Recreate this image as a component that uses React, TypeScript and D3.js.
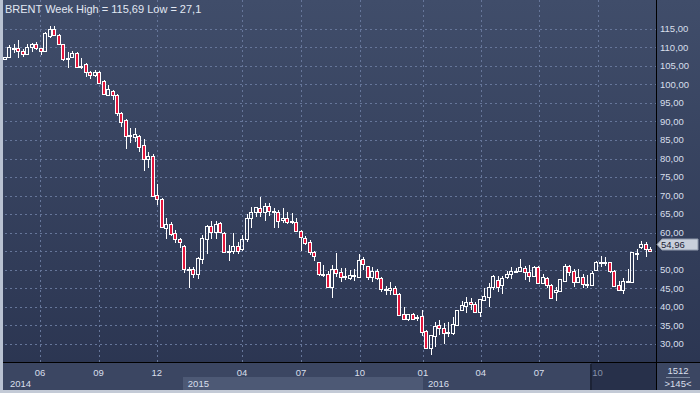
import * as d3 from 'd3';

// weekly BRENT candles, Apr 2014 .. Dec 2016
const opens = [
  106.8, 107.5, 109.5, 109.8, 109.1, 108.1, 110.0, 110.8, 109.7, 109.0,
  113.1, 115.0, 113.4, 110.8, 106.8, 107.3, 108.4, 104.8, 105.5, 103.4,
  102.5, 103.2, 101.0, 97.1, 98.2, 97.1, 92.4, 90.4, 86.2, 85.9,
  86.0, 83.6, 79.8, 80.7, 70.2, 69.1, 61.4, 62.3, 60.0, 58.2,
  56.4, 50.1, 50.2, 48.8, 52.8, 58.2, 61.8, 60.1, 62.5, 59.8,
  54.7, 55.2, 56.4, 55.5, 58.2, 63.9, 65.5, 66.6, 65.5, 67.2,
  65.9, 65.5, 63.4, 63.9, 63.2, 63.0, 60.5, 58.5, 57.4, 54.7,
  52.0, 48.8, 48.8, 45.5, 50.1, 49.3, 48.1, 47.7, 48.6, 48.1,
  52.9, 51.0, 48.1, 49.7, 47.7, 44.7, 44.6, 45.0, 43.4, 38.0,
  36.7, 38.0, 36.9, 37.5, 33.5, 28.8, 32.2, 35.1, 34.4, 32.9,
  32.9, 35.1, 39.2, 40.3, 41.4, 40.8, 38.7, 41.9, 42.8, 45.3,
  47.3, 45.9, 48.0, 48.8, 49.7, 49.7, 50.4, 49.3, 48.4, 50.7,
  46.5, 47.9, 45.9, 43.9, 44.3, 47.1, 51.0, 49.7, 46.8, 48.0,
  46.1, 45.9, 49.9, 52.0, 51.9, 52.0, 49.7, 45.9, 44.6, 46.9,
  46.8, 54.4, 56.2, 56.9, 55.6,
];
const highs = [
  107.4, 110.6, 110.9, 112.0, 109.4, 110.9, 111.2, 111.3, 109.9, 114.0,
  115.69, 115.6, 113.6, 111.0, 108.8, 109.0, 108.6, 107.0, 105.8, 103.6,
  103.9, 103.5, 101.3, 99.8, 98.6, 97.3, 92.6, 90.6, 88.2, 88.2,
  86.3, 85.2, 81.7, 81.1, 73.1, 69.3, 63.9, 62.8, 60.7, 58.7,
  56.6, 50.8, 50.8, 53.4, 59.4, 62.1, 63.2, 63.2, 62.9, 60.1,
  56.7, 60.0, 57.6, 59.4, 65.0, 67.0, 67.0, 69.6, 67.9, 67.9,
  66.6, 66.1, 66.6, 65.5, 65.2, 64.1, 60.7, 59.1, 58.0, 55.2,
  52.2, 51.3, 49.7, 51.3, 54.6, 50.4, 50.4, 50.0, 50.1, 54.3,
  53.5, 51.0, 50.8, 50.1, 48.1, 45.7, 46.6, 45.6, 43.8, 40.1,
  38.1, 38.3, 37.8, 39.2, 33.8, 32.5, 36.0, 36.5, 35.6, 35.9,
  37.4, 39.3, 41.6, 42.6, 42.3, 41.4, 42.2, 45.0, 46.5, 48.6,
  48.3, 48.4, 49.8, 50.7, 50.4, 52.9, 51.0, 51.3, 51.0, 51.0,
  48.8, 48.1, 46.1, 45.4, 47.5, 51.5, 51.3, 50.1, 50.1, 48.9,
  48.6, 49.8, 52.5, 53.8, 53.4, 52.2, 50.0, 47.1, 47.7, 50.1,
  54.9, 55.6, 57.8, 57.4, 56.2,
];
const lows = [
  106.7, 107.3, 108.5, 107.0, 107.3, 107.9, 108.8, 109.3, 107.9, 108.8,
  112.4, 113.0, 110.5, 106.4, 104.5, 107.0, 104.5, 104.1, 102.1, 101.4,
  101.9, 100.0, 97.0, 96.8, 95.8, 91.6, 88.4, 82.6, 84.1, 84.5,
  81.8, 76.7, 77.4, 69.8, 67.5, 61.3, 58.2, 59.0, 57.2, 56.0,
  49.1, 45.2, 47.9, 47.5, 51.5, 54.2, 58.2, 58.2, 59.8, 54.5,
  52.4, 54.2, 54.2, 55.2, 57.6, 61.4, 64.2, 64.3, 63.2, 64.6,
  61.4, 61.2, 62.5, 62.3, 62.3, 60.1, 55.1, 56.7, 54.0, 52.5,
  48.4, 48.1, 45.3, 42.3, 48.1, 46.8, 47.3, 47.3, 47.1, 47.9,
  50.0, 47.3, 46.6, 47.3, 44.1, 43.2, 43.2, 43.2, 37.6, 36.5,
  36.2, 36.5, 36.2, 32.2, 28.8, 27.1, 29.3, 32.4, 29.9, 32.0,
  32.4, 35.0, 39.0, 38.3, 39.2, 38.5, 37.4, 41.6, 40.1, 44.6,
  44.1, 43.4, 47.5, 47.4, 49.1, 49.5, 47.3, 46.8, 48.1, 46.4,
  46.2, 45.0, 42.1, 41.7, 44.1, 46.8, 48.4, 45.5, 46.4, 45.2,
  45.0, 45.8, 49.8, 50.8, 51.0, 49.2, 45.3, 44.4, 43.5, 46.6,
  46.6, 52.6, 55.6, 53.4, 54.7,
];
const closes = [
  107.3, 110.0, 109.8, 109.1, 108.1, 110.0, 110.8, 109.7, 109.0, 113.8,
  114.8, 113.3, 110.8, 106.8, 107.2, 108.4, 104.8, 105.0, 103.4, 102.5,
  103.2, 100.4, 97.3, 98.7, 97.1, 92.4, 89.9, 86.2, 86.4, 86.5,
  83.2, 79.8, 80.7, 70.0, 69.0, 61.6, 62.3, 59.6, 58.2, 57.6,
  50.1, 50.0, 48.8, 53.1, 58.7, 61.8, 60.1, 62.3, 60.1, 54.7,
  55.0, 56.4, 55.2, 58.2, 63.9, 65.5, 66.9, 65.5, 67.2, 65.9,
  65.6, 63.2, 63.9, 62.8, 62.9, 60.5, 58.8, 57.2, 54.7, 53.7,
  48.8, 48.5, 45.5, 50.1, 49.2, 48.1, 48.2, 48.6, 48.3, 52.6,
  51.5, 48.1, 49.7, 47.9, 44.7, 44.6, 45.2, 43.4, 37.8, 36.7,
  38.0, 36.7, 37.3, 33.3, 29.0, 32.4, 34.9, 34.2, 32.9, 33.3,
  35.4, 39.2, 40.5, 41.4, 40.7, 38.7, 42.1, 42.9, 45.4, 48.3,
  45.5, 47.9, 48.8, 49.7, 49.6, 50.7, 49.3, 48.4, 50.8, 46.5,
  48.1, 45.9, 42.5, 44.6, 47.5, 51.0, 49.5, 46.8, 48.0, 46.1,
  46.2, 49.1, 52.0, 51.9, 52.0, 49.8, 45.7, 44.6, 47.1, 47.1,
  54.7, 54.6, 57.0, 55.6, 54.96,
];

const priceTicks = [30, 35, 40, 45, 50, 55, 60, 65, 70, 75, 80, 85, 90, 95, 100, 105, 110, 115];
const monthLabels = ['06', '09', '12', '04', '07', '10', '01', '04', '07', '10'];
const monthBars = [7.8, 20.9, 33.9, 52.9, 66.1, 79.2, 93.3, 106.2, 119.2, 132.3];
const yearLabels = ['2014', '2015', '2016'];
const yearBars = [0, 39.7, 93.3];
const title = 'BRENT Week High = 115,69 Low = 27,1';
const barCount = '1512';
const visibleBars = '>145<';

const W = 700;
const H = 393;
const plotRight = 656;
const axisTop = 362;
const axisBottom = 389.5;
const scrollStart = 130.8; // bar index where the dark scroll zone begins

const font = '"Liberation Sans", Arial, sans-serif';
const red = '#e3163c';
const gridColor = '#66769a';
const textColor = '#d8dfeb';

export default function App() {
  const x = d3.scaleLinear().domain([0, 144]).range([5, 650]);
  const y = d3.scaleLinear().domain([30, 115]).range([344, 28.7]);

  const fmt = (v: number) => v.toFixed(2).replace('.', ',');
  const last = closes[closes.length - 1];
  const labelY = Math.round(y(last)) - 7;

  const candles = opens.map((o, i) => {
    const c = closes[i];
    const cx = Math.round(x(i));
    const top = Math.round(y(Math.max(o, c))) + 0.5;
    let bot = Math.round(y(Math.min(o, c))) + 0.5;
    if (bot - top < 1) bot = top + 1;
    const hy = Math.round(y(highs[i]));
    const ly = Math.round(y(lows[i]));
    const up = c >= o;
    return (
      <g key={i}>
        {hy < top && <line x1={cx + 0.5} x2={cx + 0.5} y1={hy} y2={top} stroke="#fff" />}
        {ly > bot && <line x1={cx + 0.5} x2={cx + 0.5} y1={bot} y2={ly} stroke="#fff" />}
        <rect
          x={cx - 1.5}
          y={top}
          width={3}
          height={bot - top}
          fill={up ? 'none' : red}
          stroke="#fff"
          strokeWidth={1}
        />
      </g>
    );
  });

  const scrollX = x(scrollStart);

  return (
    <svg
      width={W}
      height={H}
      style={{ position: 'fixed', left: 0, top: 0, display: 'block' }}
      shapeRendering="crispEdges"
    >
      <defs>
        <linearGradient id="bg" x1="0" y1="0" x2="0" y2="1">
          <stop offset="0%" stopColor="#404d6a" />
          <stop offset="100%" stopColor="#2a3450" />
        </linearGradient>
      </defs>

      <rect x={0} y={0} width={W} height={H} fill="url(#bg)" />

      {/* horizontal grid */}
      {priceTicks.map((v) => (
        <line
          key={'h' + v}
          x1={0}
          x2={plotRight}
          y1={Math.round(y(v)) + 0.5}
          y2={Math.round(y(v)) + 0.5}
          stroke={gridColor}
          strokeDasharray="2,3"
        />
      ))}
      {/* vertical grid */}
      {monthBars.map((b, i) => (
        <line
          key={'v' + i}
          x1={Math.round(x(b)) + 0.5}
          x2={Math.round(x(b)) + 0.5}
          y1={0}
          y2={axisTop}
          stroke={gridColor}
          strokeDasharray="2,3"
        />
      ))}

      <g>{candles}</g>

      <text x={5} y={13} fontFamily={font} fontSize={11} fill="#e2e8f3" shapeRendering="auto">
        {title}
      </text>

      {/* bottom axis panel */}
      <rect x={0} y={axisTop} width={W} height={axisBottom - axisTop} fill="#3b4662" />
      <rect
        x={x(yearBars[1])}
        y={376.5}
        width={x(yearBars[2]) - x(yearBars[1])}
        height={axisBottom - 376.5}
        fill="#4d5975"
      />
      <rect x={scrollX} y={axisTop} width={plotRight - scrollX} height={axisBottom - axisTop} fill="#27304a" />
      <line x1={scrollX} x2={scrollX} y1={axisTop + 2} y2={axisBottom} stroke="#1c2336" strokeWidth={1.5} />

      {monthLabels.map((m, i) => (
        <text
          key={'m' + i}
          x={x(monthBars[i])}
          y={375.5}
          textAnchor="middle"
          fontFamily={font}
          fontSize={9.5}
          fill={monthBars[i] > scrollStart ? '#8591a8' : textColor}
        >
          {m}
        </text>
      ))}
      {yearLabels.map((yl, i) => (
        <text key={'y' + i} x={x(yearBars[i]) + 5} y={386.5} fontFamily={font} fontSize={9.5} fill={textColor}>
          {yl}
        </text>
      ))}

      {/* right axis panel */}
      <line x1={plotRight + 0.5} x2={plotRight + 0.5} y1={0} y2={axisBottom} stroke="#000" />
      <line x1={0} x2={W} y1={axisTop + 0.5} y2={axisTop + 0.5} stroke="#000" />
      {priceTicks
        .filter((v) => Math.abs(y(v) - labelY) > 9)
        .map((v) => (
          <text
            key={'t' + v}
            x={660}
            y={y(v)}
            dy="0.35em"
            fontFamily={font}
            fontSize={9.5}
            fill={textColor}
          >
            {fmt(v)}
          </text>
        ))}

      {/* last price marker */}
      <path
        d={`M657,${labelY + 0.5} L662,${labelY - 5} L698,${labelY - 5} L698,${labelY + 6} L662,${labelY + 6} Z`}
        fill="#c8cfdb"
        stroke="#8f99ab"
        shapeRendering="auto"
      />
      <text x={661} y={labelY + 0.5} dy="0.35em" fontFamily={font} fontSize={9.5} fill="#1b2234">
        {fmt(last)}
      </text>

      {/* corner */}
      <text x={678} y={374} textAnchor="middle" fontFamily={font} fontSize={9.5} fill={textColor}>
        {barCount}
      </text>
      <line x1={666} x2={690} y1={377.5} y2={377.5} stroke="#7d89a0" />
      <text x={678} y={386.5} textAnchor="middle" fontFamily={font} fontSize={9.5} fill={textColor}>
        {visibleBars}
      </text>

      {/* frame */}
      <rect x={0} y={0} width={3} height={H} fill="#b9c2d2" />
      <rect x={0} y={axisBottom} width={W} height={H - axisBottom} fill="#c3cad6" />
    </svg>
  );
}
